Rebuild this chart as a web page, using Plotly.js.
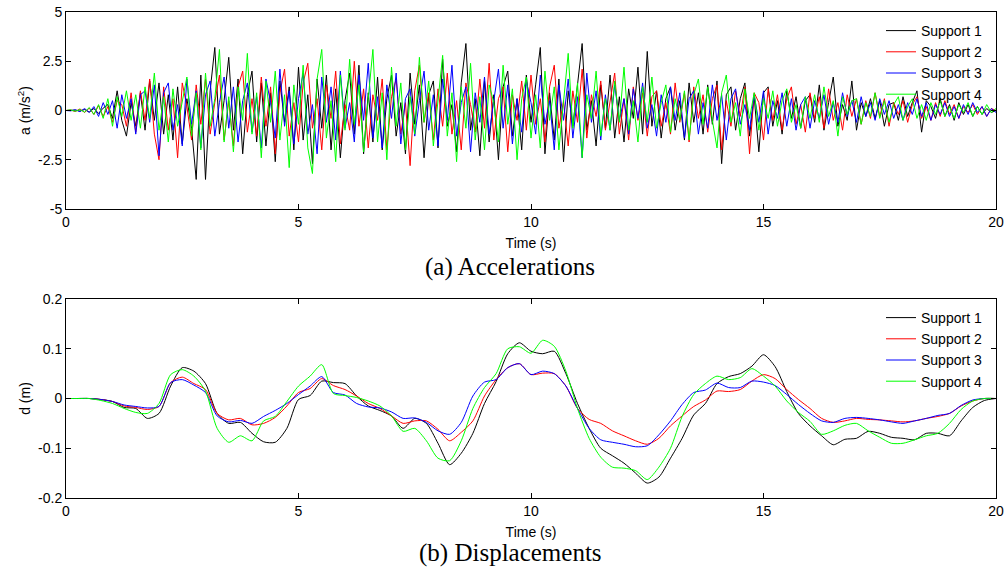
<!DOCTYPE html>
<html>
<head>
<meta charset="utf-8">
<script src="https://cdn.plot.ly/plotly-3.0.1.min.js"></script>
<style>html,body{margin:0;padding:0;background:#fff;}#chart{width:1008px;height:572px;}</style>
</head>
<body>
<div id="chart"></div>
<script>
// ---------- data ----------
const seriesNames = ["Support 1", "Support 2", "Support 3", "Support 4"];
const seriesColors = ["#000000", "#ff0000", "#0000ff", "#00ff00"];
const accStep = 0.1;   // s
const dispStep = 0.25; // s
const xTicks = [0, 5, 10, 15, 20];
const accTicks = [-5, -2.5, 0, 2.5, 5];
const accTickText = ["-5", "-2.5", "0", "2.5", "5"];
const dispTicks = [-0.2, -0.1, 0, 0.1, 0.2];
const dispTickText = ["-0.2", "-0.1", "0", "0.1", "0.2"];

// accelerations (m/s^2), one value each 0.1 s from 0 to 20 s
const acc1 = [
 0, 0, 0.02, -0.03, 0.05, -0.08, 0.1, -0.15, 0.12, 0.3,
 -0.4, 1.0, -0.5, -1.3, 0.4, -0.8, 0.9, -1.0, 1.5, -0.5,
 1.4, -1.2, 0.8, -1.5, 1.2, -1.7, 0.6, -0.9, -3.5, 1.8,
 -3.5, 1.0, 3.2, -1.2, 0.5, 2.7, -1.0, 1.6, -2.2, 0.8,
 2.0, -1.6, 1.4, -1.8, 0.9, -2.6, 1.5, -0.6, 1.2, -2.0,
 2.2, -1.5, 0.8, -2.7, 1.6, -0.9, 1.8, -2.0, 1.1, -2.4,
 0.5, 1.9, -1.2, 2.3, -2.2, 0.9, -1.6, 1.7, -2.0, 0.6,
 1.8, -1.3, 0.4, -2.2, 1.9, -0.7, 1.3, -2.4, 0.8, 1.5,
 -1.9, 2.6, -0.8, 0.3, -2.1, 1.4, 3.4, -1.0, 0.6, -2.3,
 1.5, -1.6, 0.8, -2.5, 1.2, 2.0, -1.3, 0.6, -2.0, 1.8,
 -0.6, 1.3, 3.2, -2.2, 0.9, -1.5, 1.6, -2.6, 1.0, -0.8,
 1.2, 3.4, -1.0, 0.5, -1.8, 1.3, -0.9, 1.8, -1.4, 0.7,
 -1.6, 1.1, -0.4, 2.2, -1.2, 3.0, -0.8, 1.0, -1.4, 0.6,
 1.2, -1.0, 0.5, -1.5, 1.4, -0.6, 0.9, -1.2, 1.3, -0.7,
 1.5, -2.7, 0.8, 1.2, -1.0, 0.6, 1.4, -1.3, 0.7, -2.1,
 0.9, 1.2, -0.8, 0.5, -1.2, 1.0, -0.4, 0.7, -0.9, 0.5,
 0.8, -0.6, 1.3, -1.0, 0.4, 1.7, -0.8, 0.3, -0.5, 1.5,
 -1.0, 0.4, -0.3, 0.6, -0.4, 0.5, -0.8, 0.3, 0.4, -0.5,
 0.7, -0.3, 0.4, 1.0, -1.1, 0.5, 0.2, -0.4, 0.6, -0.3,
 0.3, -0.5, 0.4, -0.2, 0.3, -0.3, 0.2, -0.2, 0.1, -0.1,
 0.0];
const acc2 = [
 0, 0.02, -0.05, 0.08, -0.1, 0.12, -0.2, 0.25, -0.3, 0.2,
 -0.6, 0.5, 0.3, -0.8, 0.9, -1.1, 1.0, -0.5, 1.6, -1.2,
 -2.5, 1.2, -1.0, 0.6, -2.4, 1.4, 0.2, -1.5, 1.3, -0.7,
 1.6, -1.2, 0.4, 1.8, -1.5, 0.5, -1.8, 1.2, 2.0, -1.1,
 0.6, -1.3, 1.7, -0.8, 1.2, -2.2, 0.9, 2.1, -1.3, 0.4,
 -1.6, 1.4, 2.4, -0.9, 0.6, -2.0, 1.3, -0.4, 2.0, -1.7,
 0.3, -1.0, 2.5, -0.8, 1.1, -1.9, 0.8, -0.5, 1.6, -2.0,
 0.7, 1.6, -1.2, 0.4, -2.8, 1.0, 2.3, -0.6, 0.9, -1.5,
 1.1, -0.8, 1.9, -1.2, 0.5, -2.0, 1.4, 0.3, -1.1, 1.6,
 -0.9, 2.4, -1.5, 0.6, 1.2, -2.1, 0.8, -0.5, 1.5, -1.0,
 1.8, -0.7, 0.6, -1.6, 1.2, 2.3, -0.9, 0.5, -1.8, 1.0,
 -0.6, 2.1, -1.4, 0.8, -0.3, 1.5, -1.0, 0.5, 1.9, -1.2,
 0.6, -1.5, 1.2, -0.5, 0.9, -1.3, 0.7, 1.0, -0.8, 0.4,
 -1.2, 1.4, -0.6, 0.9, -1.6, 1.2, -0.4, 0.8, -1.1, 0.6,
 1.3, -2.0, 0.5, -0.8, 1.0, -0.3, 1.2, -2.2, 0.9, 0.4,
 -1.5, 1.1, -0.5, 0.8, -1.0, 0.6, 1.2, -0.7, 0.3, -1.1,
 0.9, -0.4, 0.7, -0.9, 1.1, -0.5, 0.4, -1.0, 0.8, -0.3,
 0.6, -0.7, 0.5, -0.4, 0.9, -0.3, 0.6, -0.8, 0.4, -0.2,
 0.5, -0.6, 0.3, 0.7, -0.4, 0.2, -0.5, 0.4, -0.3, 0.5,
 -0.2, 0.3, -0.4, 0.2, -0.1, 0.3, -0.2, 0.2, -0.3, 0.1,
 0];
const acc3 = [
 0, -0.02, 0.04, -0.06, 0.1, -0.1, 0.2, -0.3, 0.4, -0.2,
 0.5, -0.9, 0.8, -0.4, 0.6, -1.2, 0.8, 1.0, -0.6, 1.3,
 -2.3, 0.9, 1.4, -1.0, 0.3, -1.8, 1.6, -0.7, 1.0, -1.9,
 0.8, 1.5, -1.3, 0.4, 1.7, -0.9, 1.2, -1.6, 0.5, 1.4,
 -1.1, 0.7, -1.9, 1.6, 0.4, -1.4, 2.1, -0.8, 1.0, -1.7,
 0.6, 1.9, -1.2, 0.3, -2.2, 1.7, -0.6, 1.2, -1.5, 2.0,
 -0.9, 0.4, -1.6, 1.8, -0.5, 2.4, -1.4, 0.7, -1.9, 1.3,
 -0.4, 1.9, -1.7, 0.6, 1.1, -1.3, 0.5, 2.0, -1.0, 0.8,
 -1.8, 1.6, -0.5, 2.3, -1.3, 0.4, 1.2, -2.1, 0.9, -0.6,
 1.7, -1.2, 0.5, 2.1, -0.9, 1.3, -1.7, 0.6, -1.1, 1.5,
 0.4, -1.2, 1.8, -0.7, 0.5, -2.0, 1.3, -0.5, 1.6, -1.4,
 0.7, -2.4, 1.9, -0.6, 1.0, -1.5, 0.8, -1.0, 1.3, -0.5,
 0.6, -1.2, 1.1, -0.4, 1.4, -0.9, 0.3, -1.3, 0.8, -0.6,
 1.2, -0.5, 0.9, -1.4, 0.6, 1.0, -1.2, 0.4, -0.9, 1.3,
 -0.5, 0.8, -1.5, 0.6, 1.1, -0.7, 0.3, -1.0, 0.8, -0.6,
 1.0, -1.2, 0.5, -0.4, 0.9, -0.8, 0.6, -1.0, 0.3, 0.7,
 -0.9, 0.5, -0.4, 0.8, -0.7, 0.4, -0.6, 0.9, -0.3, 0.5,
 -0.6, 0.7, -0.3, 0.4, -0.5, 0.6, -0.2, 0.5, -0.4, 0.3,
 -0.5, 0.4, -0.2, 0.6, -0.3, 0.4, -0.5, 0.3, -0.2, 0.4,
 -0.3, 0.2, -0.4, 0.3, -0.2, 0.4, -0.1, 0.2, -0.3, 0.1,
 -0.1];
const acc4 = [
 0, 0.03, -0.04, 0.05, -0.08, 0.15, -0.2, 0.3, -0.4, 0.6,
 -0.8, 0.7, -0.3, 1.0, -0.5, 0.8, -0.9, 1.2, -0.4, 1.9,
 -1.0, 0.7, -1.6, 1.1, -0.8, 0.5, 1.7, -1.3, 0.9, -2.0,
 1.9, -0.8, 0.6, 3.1, -1.6, 0.7, -2.1, 1.2, -0.5, 2.9,
 -1.2, 0.9, -2.4, 1.5, -0.6, 2.0, -1.5, 0.8, -2.9, 1.3,
 -0.7, 2.3, -1.9, -3.2, 1.6, 3.1, -1.4, 0.5, -2.6, 1.8,
 -1.0, 2.6, -0.7, 1.3, -2.1, 0.6, 3.1, -1.6, 0.9, -2.5,
 2.2, -0.8, 1.4, -2.0, 0.7, -1.2, 2.7, -0.6, 1.5, -1.8,
 0.5, 2.8, -1.3, 0.9, -2.6, 1.2, -0.9, 2.4, -1.5, 0.7,
 -2.0, 1.3, 0.4, -1.6, 2.3, -0.7, 1.1, -2.5, 0.6, 1.7,
 -1.4, 0.8, -1.9, 2.0, -0.5, 1.2, -2.0, 0.6, 2.9, -0.9,
 1.4, -2.4, 0.8, -0.4, 2.0, -1.3, 0.6, -1.0, 1.5, -0.6,
 2.2, -1.0, 0.5, -1.6, 1.2, -0.6, 1.7, -0.9, 0.4, 1.3,
 -1.1, 0.6, -0.5, 1.0, -1.5, 0.8, 1.6, -0.7, 1.2, -0.5,
 -1.9, 0.9, 1.8, -0.6, 0.4, -1.3, 1.1, -0.4, 0.9, -1.0,
 0.6, -0.4, 1.0, -0.8, 0.5, 1.1, -0.6, 0.3, -0.9, 0.7,
 -0.4, 0.8, -0.6, 1.2, -0.3, 0.5, -1.3, 0.7, -0.2, 0.5,
 0.6, -0.7, 0.4, -0.3, 0.9, -0.4, 0.5, -0.6, 0.3, 0.7,
 -0.5, 0.2, 0.6, -0.4, 0.3, -0.5, 0.4, -0.2, 0.5, -0.3,
 0.2, -0.4, 0.3, -0.1, 0.4, -0.3, 0.2, -0.2, 0.3, -0.1,
 0.1];

// displacements (m), one value each 0.25 s from 0 to 20 s
const disp1 = [
 0, 0, 0, -0.002, -0.006, -0.018, -0.02, -0.04,
 -0.03, 0.025, 0.062, 0.055, 0.03, -0.03, -0.05, -0.048,
 -0.07, -0.087, -0.088, -0.06, -0.002, 0.006, 0.035, 0.032,
 0.03, 0.005, -0.015, -0.024, -0.035, -0.06, -0.04, -0.05,
 -0.09, -0.133, -0.11, -0.07, -0.01, 0.034, 0.09, 0.112,
 0.095, 0.09, 0.095, 0.05, -0.01, -0.06, -0.1, -0.115,
 -0.13, -0.15, -0.17, -0.158, -0.12, -0.08, -0.033, -0.01,
 0.03, 0.044, 0.05, 0.065, 0.088, 0.064, 0.014, -0.03,
 -0.055, -0.075, -0.093, -0.082, -0.08, -0.066, -0.07, -0.078,
 -0.08, -0.083, -0.07, -0.07, -0.075, -0.045, -0.018, -0.004,
 0];
const disp2 = [
 0, 0, 0, -0.002, -0.006, -0.015, -0.018, -0.022,
 -0.016, 0.032, 0.043, 0.03, 0.018, -0.03, -0.043, -0.04,
 -0.053, -0.05, -0.038, -0.015, 0.012, 0.02, 0.04, 0.026,
 0.018, 0.005, -0.01, -0.02, -0.035, -0.05, -0.045, -0.045,
 -0.062, -0.085, -0.068, -0.045, 0.005, 0.038, 0.062, 0.07,
 0.048, 0.051, 0.05, 0.025, -0.02, -0.042, -0.05, -0.065,
 -0.075, -0.085, -0.092, -0.08, -0.055, -0.035, -0.016, -0.003,
 0.015, 0.014, 0.018, 0.035, 0.048, 0.04, 0.018, -0.002,
 -0.02, -0.04, -0.048, -0.045, -0.04, -0.042, -0.043, -0.045,
 -0.047, -0.045, -0.04, -0.036, -0.03, -0.015, -0.005, 0,
 0];
const disp3 = [
 0, 0, 0, -0.002, -0.006, -0.013, -0.016, -0.019,
 -0.016, 0.032, 0.038, 0.027, 0.012, -0.035, -0.047, -0.044,
 -0.05, -0.036, -0.024, -0.01, 0.008, 0.025, 0.044, 0.012,
 0.007, -0.01, -0.017, -0.019, -0.027, -0.04, -0.039, -0.048,
 -0.065, -0.072, -0.048, 0.005, 0.033, 0.038, 0.062, 0.07,
 0.048, 0.055, 0.05, 0.025, -0.02, -0.06, -0.083, -0.088,
 -0.092, -0.097, -0.095, -0.073, -0.045, -0.012, 0.012, 0.017,
 0.031, 0.022, 0.022, 0.035, 0.033, 0.026, 0.008, -0.012,
 -0.03, -0.045, -0.048, -0.04, -0.038, -0.04, -0.043, -0.047,
 -0.05, -0.045, -0.04, -0.034, -0.03, -0.014, -0.003, 0,
 0];
const disp4 = [
 0, 0, 0, -0.004, -0.01, -0.02, -0.028, -0.03,
 -0.01, 0.048, 0.058, 0.045, 0.015, -0.06, -0.088, -0.075,
 -0.085, -0.045, -0.036, -0.006, 0.025, 0.045, 0.068, 0.01,
 0.006, 0.002, -0.005, -0.015, -0.035, -0.066, -0.06, -0.085,
 -0.12, -0.125, -0.085, -0.02, 0.022, 0.05, 0.1, 0.104,
 0.091, 0.117, 0.105, 0.055, -0.02, -0.08, -0.118, -0.138,
 -0.14, -0.145, -0.163, -0.138, -0.1, -0.036, 0.008, 0.03,
 0.045, 0.038, 0.042, 0.06, 0.045, 0.025, -0.005, -0.028,
 -0.046, -0.072, -0.065, -0.054, -0.05, -0.065, -0.078, -0.09,
 -0.09, -0.083, -0.075, -0.07, -0.05, -0.022, -0.005, 0,
 0];

// ---------- build ----------
const accSeries = [acc1, acc2, acc3, acc4];
const dispSeries = [disp1, disp2, disp3, disp4];
const timeOf = (arr, step) => arr.map((_, i) => +(i * step).toFixed(3));

const traces = [];
accSeries.forEach((ys, k) => traces.push({
  type: "scatter", mode: "lines", name: seriesNames[k],
  x: timeOf(ys, accStep), y: ys, xaxis: "x", yaxis: "y",
  line: { color: seriesColors[k], width: 1 }, legend: "legend", hoverinfo: "skip"
}));
dispSeries.forEach((ys, k) => traces.push({
  type: "scatter", mode: "lines", name: seriesNames[k],
  x: timeOf(ys, dispStep), y: ys, xaxis: "x2", yaxis: "y2",
  line: { color: seriesColors[k], width: 1, shape: "spline", smoothing: 0.7 }, legend: "legend2", hoverinfo: "skip"
}));

const sans = "Liberation Sans, Arial, sans-serif";
const serif = "Liberation Serif, Times New Roman, serif";
const tickFont = { family: sans, size: 14, color: "#000" };

function xAxis(anchor) {
  return {
    domain: [66 / 1008, 996 / 1008], anchor: anchor, range: [0, 20],
    tickvals: xTicks, ticktext: xTicks.map(String), ticks: "inside", ticklen: 5,
    tickcolor: "#000", showline: true, linecolor: "#000", linewidth: 1, mirror: "ticks",
    showgrid: false, zeroline: false, tickfont: tickFont, automargin: false,
    title: { text: "Time (s)", font: { family: sans, size: 14, color: "#000" }, standoff: 9 }
  };
}
function yAxis(anchor, dom, range, tv, tt, title) {
  return {
    domain: dom, anchor: anchor, range: range, tickvals: tv, ticktext: tt,
    ticks: "inside", ticklen: 5, tickcolor: "#000", showline: true, linecolor: "#000",
    linewidth: 1, mirror: "ticks", showgrid: false, zeroline: false, tickfont: tickFont,
    automargin: false, title: { text: title, font: { family: sans, size: 14, color: "#000" }, standoff: 4 }
  };
}

const layout = {
  width: 1008, height: 572, margin: { l: 0, r: 0, t: 0, b: 0 },
  paper_bgcolor: "#fff", plot_bgcolor: "#fff", showlegend: true,
  xaxis: xAxis("y"),
  yaxis: yAxis("x", [1 - 209 / 572, 1 - 12 / 572], [-5, 5], accTicks, accTickText, "a (m/s<sup>2</sup>)"),
  xaxis2: xAxis("y2"),
  yaxis2: yAxis("x2", [1 - 498 / 572, 1 - 299 / 572], [-0.2, 0.2], dispTicks, dispTickText, "d (m)"),
  legend: { x: 881 / 1008, xanchor: "left", y: 1 - 15 / 572, yanchor: "top", bgcolor: "rgba(0,0,0,0)",
            borderwidth: 0, font: { family: sans, size: 14, color: "#000" }, tracegroupgap: 0 },
  legend2: { x: 881 / 1008, xanchor: "left", y: 1 - 302 / 572, yanchor: "top", bgcolor: "rgba(0,0,0,0)",
             borderwidth: 0, font: { family: sans, size: 14, color: "#000" }, tracegroupgap: 0 },
  annotations: [
    { text: "(a) Accelerations", xref: "paper", yref: "paper", x: 510 / 1008, y: 1 - 267 / 572,
      xanchor: "center", yanchor: "middle", showarrow: false, font: { family: serif, size: 25, color: "#000" } },
    { text: "(b) Displacements", xref: "paper", yref: "paper", x: 510 / 1008, y: 1 - 553 / 572,
      xanchor: "center", yanchor: "middle", showarrow: false, font: { family: serif, size: 25, color: "#000" } }
  ]
};

Plotly.newPlot("chart", traces, layout, { staticPlot: true, displayModeBar: false });
</script>
</body>
</html>
